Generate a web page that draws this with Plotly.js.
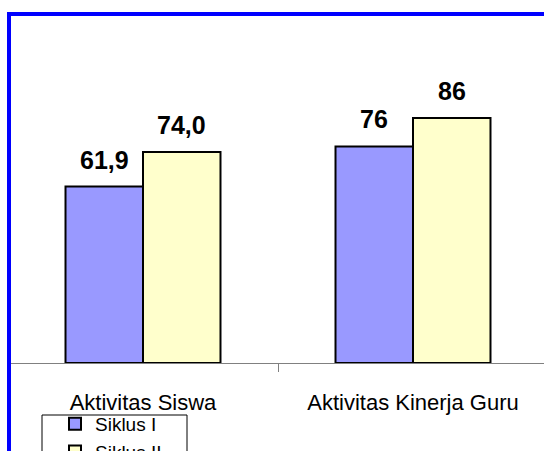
<!DOCTYPE html>
<html>
<head>
<meta charset="utf-8">
<script src="https://cdn.plot.ly/plotly-3.0.1.min.js"></script>
<style>
  html, body { margin: 0; padding: 0; width: 544px; height: 451px; overflow: hidden; background: #ffffff; }
  #chart { position: absolute; left: 0; top: 0; }
  #frame { position: absolute; left: 7px; top: 12px; width: 600px; height: 500px;
           border-left: 4px solid #0000ff; border-top: 4px solid #0000ff; pointer-events: none; }
</style>
</head>
<body>
<div id="chart"></div>
<div id="frame"></div>
<script>
// ---- data ----
const categories = ["Aktivitas Siswa", "Aktivitas Kinerja Guru"];
const seriesNames = ["Siklus I", "Siklus II"];
const siklus1 = [61.9, 76];
const siklus2 = [74.0, 86];
const siklus1Labels = ["61,9", "76"];
const siklus2Labels = ["74,0", "86"];

// ---- layout constants ----
const W = 560, H = 460;
const M = {l: 8, r: 12, t: 78, b: 97};
const bargap = 0.426;
const plotW = W - M.l - M.r;
const plotH = H - M.t - M.b;
const barPx = (plotW / categories.length) * (1 - bargap) / 2;

const colors = ["#9999ff", "#ffffcc"];
const values = [siklus1, siklus2];
const labels = [siklus1Labels, siklus2Labels];

const traces = values.map((v, i) => ({
  type: "bar",
  name: seriesNames[i],
  x: categories,
  y: v,
  marker: {color: colors[i], line: {color: "#000000", width: 2}},
  hoverinfo: "none"
}));

const annotations = [];
values.forEach((v, i) => {
  v.forEach((val, j) => {
    annotations.push({
      x: categories[j], y: val, xref: "x", yref: "y",
      text: labels[i][j], showarrow: false,
      xanchor: "center", yanchor: "bottom",
      xshift: (i === 0 ? -1 : 1) * barPx / 2,
      yshift: 11,
      font: {family: "Liberation Sans, Arial, sans-serif", size: 25, color: "#000000", weight: "bold"}
    });
  });
});

const layout = {
  width: W, height: H,
  margin: {l: M.l, r: M.r, t: M.t, b: M.b, autoexpand: false},
  paper_bgcolor: "#ffffff", plot_bgcolor: "#ffffff",
  barmode: "group", bargap: bargap, bargroupgap: 0,
  font: {family: "Liberation Sans, Arial, sans-serif", color: "#000000"},
  xaxis: {
    type: "category",
    showline: true, linecolor: "#808080", linewidth: 1,
    ticks: "outside", tickson: "boundaries", ticklen: 8, tickcolor: "#808080", tickwidth: 1,
    tickfont: {size: 22, color: "#000000"},
    ticklabelstandoff: 20,
    showgrid: false, zeroline: false, fixedrange: true
  },
  yaxis: {range: [0, 100], visible: false, showgrid: false, zeroline: false, fixedrange: true},
  showlegend: true,
  legend: {
    x: (55 - M.l) / plotW, y: (H - M.b - 405) / plotH,
    xanchor: "left", yanchor: "top",
    bgcolor: "rgba(0,0,0,0)", borderwidth: 0,
    font: {size: 19, color: "#000000"},
    traceorder: "normal"
  },
  shapes: [{
    type: "rect", xref: "paper", yref: "paper", layer: "above",
    x0: (42 - M.l) / plotW, x1: (187 - M.l) / plotW,
    y0: -0.6, y1: (H - M.b - 415) / plotH,
    line: {color: "#000000", width: 1}, fillcolor: "#ffffff"
  }],
  annotations: annotations
};

Plotly.newPlot("chart", traces, layout, {displayModeBar: false, staticPlot: true});
</script>
</body>
</html>
